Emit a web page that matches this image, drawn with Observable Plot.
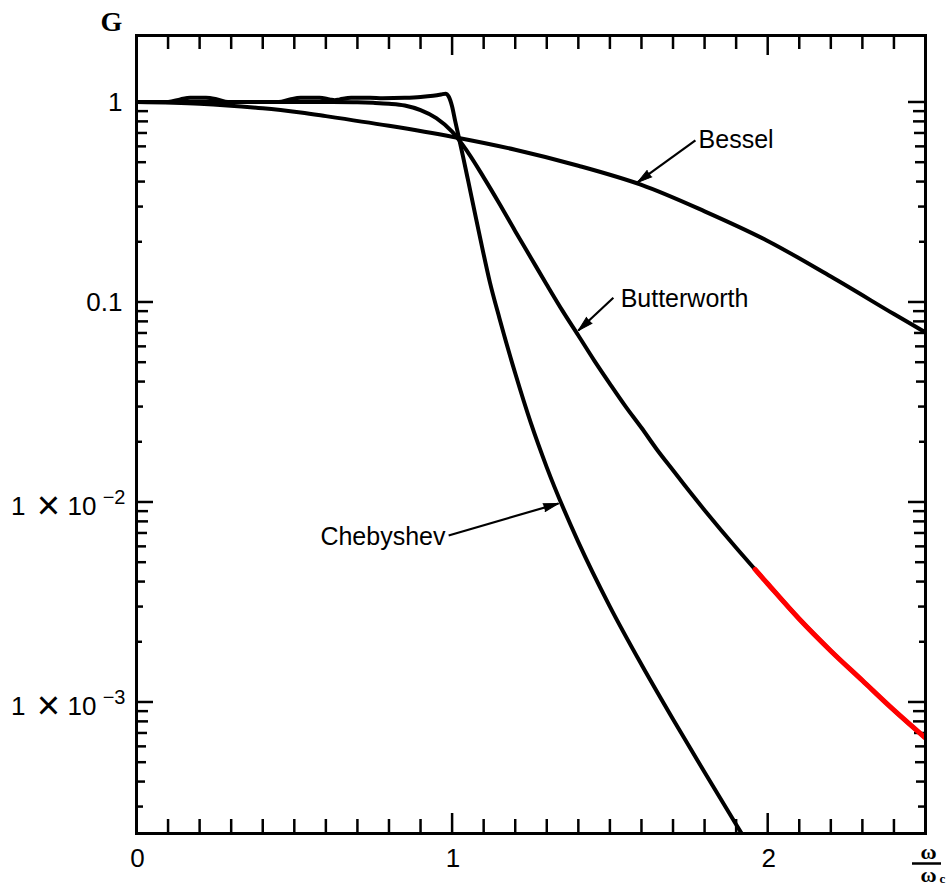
<!DOCTYPE html>
<html>
<head>
<meta charset="utf-8">
<script src="https://cdn.jsdelivr.net/npm/d3@7"></script>
<script src="https://cdn.jsdelivr.net/npm/@observablehq/plot@0.6"></script>
<style>
  body { margin: 0; background: #fff; }
  #chart svg { display: block; }
</style>
</head>
<body>
<div id="chart"></div>
<script>
// ---- Data (x = ω/ωc, G = gain) ----
const besselX = [0, 0.2, 0.4, 0.52, 0.6, 0.8, 1.0, 1.2, 1.4, 1.6, 1.8, 2.0, 2.2, 2.4, 2.5];
const besselG = [1.0, 0.98, 0.93, 0.886, 0.85, 0.76, 0.67, 0.577, 0.48, 0.385, 0.284, 0.202, 0.134, 0.087, 0.0704];

const butterX = [0, 0.3, 0.5, 0.6, 0.7, 0.75, 0.8, 0.85, 0.9, 0.95, 1.0, 1.05, 1.1, 1.15, 1.2, 1.25, 1.3, 1.35, 1.4, 1.45, 1.5, 1.55, 1.6, 1.65, 1.7, 1.75, 1.8, 1.9, 1.96, 2.0, 2.1, 2.2, 2.3, 2.4, 2.5];
const butterG = [1.0, 1.0, 1.0, 0.999, 0.996, 0.99, 0.98, 0.96, 0.91, 0.83, 0.71, 0.56, 0.42, 0.31, 0.226, 0.166, 0.122, 0.0903, 0.068, 0.0511, 0.039, 0.030, 0.0235, 0.0182, 0.0144, 0.0114, 0.0091, 0.0059, 0.0046, 0.0039, 0.0026, 0.0018, 0.00128, 0.00091, 0.00066];

const chebyX = [0, 0.1, 0.139, 0.17, 0.22, 0.256, 0.29, 0.35, 0.45, 0.486, 0.52, 0.58, 0.612, 0.628, 0.644, 0.68, 0.74, 0.78, 0.85, 0.9, 0.94, 0.965, 0.979, 0.99, 1.0, 1.01, 1.02, 1.035, 1.05, 1.068, 1.09, 1.12, 1.15, 1.2, 1.25, 1.3, 1.4, 1.5, 1.6, 1.7, 1.8, 1.9, 2.0];
const chebyG = [1.0, 1.0, 1.03, 1.05, 1.05, 1.03, 1.0, 1.0, 1.0, 1.03, 1.05, 1.05, 1.03, 1.02, 1.03, 1.05, 1.05, 1.045, 1.05, 1.06, 1.075, 1.09, 1.10, 1.06, 0.95, 0.80, 0.68, 0.53, 0.41, 0.30, 0.205, 0.125, 0.083, 0.044, 0.0247, 0.0149, 0.0063, 0.003, 0.00154, 0.00082, 0.000445, 0.000244, 0.000135];

const redStartX = 1.96;   // start of the red-highlighted part of the Butterworth curve

// Curve labels and the arrows pointing at the curves (data units)
const labelNames  = ["Bessel", "Butterworth", "Chebyshev"];
const labelX      = [1.781, 1.534, 0.979];
const labelG      = [0.642, 0.104, 0.00668];
const labelAnchor = ["start", "start", "end"];
const arrowFromX  = [1.771, 1.511, 0.989];
const arrowFromG  = [0.642, 0.105, 0.0068];
const arrowToX    = [1.587, 1.400, 1.337];
const arrowToG    = [0.396, 0.072, 0.00983];

// Tick labels
const xTickValues = [0, 1, 2];
const xTickLabels = ["0", "1", "2"];
const yTickValues = [1, 0.1, 0.01, 0.001];
const yTickLabels = ["1", "0.1", "1 × 10−2", "1 × 10−3"];
const yAxisTitle  = "G";
const xAxisTitle  = ["ω", "ω", "c"];   // ω / ω_c

// ---- Layout ----
const W = 947, H = 885;
const mL = 136, mR = 22, mT = 35, mB = 52;
const plotW = W - mL - mR, plotH = H - mT - mB;
const xDomain = [0, 2.5];
const yDomain = [2.2e-4, 2.15];
const sans = "'Liberation Sans', Arial, Helvetica, sans-serif";
const serif = "'Liberation Serif', 'Times New Roman', serif";

// same geometry as the Plot scales, used only to orient the arrowheads
const px = d3.scaleLinear(xDomain, [mL, W - mR]);
const py = d3.scaleLog(yDomain, [H - mB, mT]);

const rows = (xs, gs) => xs.map((x, i) => ({x, g: gs[i]}));
const bessel = rows(besselX, besselG);
const butter = rows(butterX, butterG);
const cheby = rows(chebyX, chebyG);
const red = butter.filter(d => d.x >= redStartX);

const labels = labelNames.map((t, i) => ({t, x: labelX[i], g: labelG[i], a: labelAnchor[i]}));
const arrows = labelNames.map((t, i) => {
  const a = {x1: arrowFromX[i], y1: arrowFromG[i], x2: arrowToX[i], y2: arrowToG[i]};
  const dxp = px(a.x2) - px(a.x1), dyp = py(a.y2) - py(a.y1);
  a.rot = Math.atan2(dxp, -dyp) * 180 / Math.PI;
  return a;
});
const xLabelRows = xTickValues.map((v, i) => ({v, t: xTickLabels[i]}));
const yLabelRows = yTickValues.map((v, i) => {
  const t = yTickLabels[i];
  const m = t.match(/^(\S+) × 10(.*)$/);
  return m ? {v, sci: true, mant: m[1], times: "×", base: "10", exp: m[2]} : {v, sci: false, t};
});
const yPlain = yLabelRows.filter(d => !d.sci);
const ySci = yLabelRows.filter(d => d.sci);

// ---- Tick positions ----
const xMinor = d3.range(1, 25).filter(i => i % 10 !== 0).map(i => i / 10);
const xMajor = [1, 2];
const minorLen = {2: 6, 3: 7, 4: 9, 5: 10, 6: 10, 7: 11, 8: 12, 9: 12};
const yMinor = [];
for (const dec of [1e-4, 1e-3, 1e-2, 1e-1]) {
  for (let m = 2; m <= 9; m++) {
    const v = m * dec;
    if (v >= yDomain[0] && v < 1) yMinor.push({v, len: minorLen[m]});
  }
}
const yMajor = [1, 0.1, 0.01, 0.001];
const tickSW = 2.5;

const yTickMarks = [];
for (const len of [...new Set(yMinor.map(d => d.len))]) {
  const vals = yMinor.filter(d => d.len === len).map(d => d.v);
  yTickMarks.push(Plot.tickY(vals, {y: d => d, insetRight: plotW - len, strokeWidth: tickSW}));
  yTickMarks.push(Plot.tickY(vals, {y: d => d, insetLeft: plotW - len, strokeWidth: tickSW}));
}
yTickMarks.push(Plot.tickY(yMajor, {y: d => d, insetRight: plotW - 17, strokeWidth: tickSW}));
yTickMarks.push(Plot.tickY(yMajor, {y: d => d, insetLeft: plotW - 17, strokeWidth: tickSW}));

const smooth = {x: "x", y: "g", stroke: "black", strokeWidth: 4, curve: "catmull-rom", clip: true, strokeLinejoin: "round"};
const txt = {fill: "black", fontFamily: sans, lineAnchor: "middle"};
const serifTxt = {fill: "black", fontFamily: serif, fontWeight: "bold", lineAnchor: "middle", textAnchor: "middle"};

const chart = Plot.plot({
  width: W, height: H,
  marginLeft: mL, marginRight: mR, marginTop: mT, marginBottom: mB,
  style: {background: "white", color: "black", overflow: "visible"},
  x: {domain: xDomain, axis: null},
  y: {type: "log", domain: yDomain, axis: null},
  marks: [
    // tick marks (inward)
    Plot.tickX(xMinor, {x: d => d, insetTop: plotH - 14, strokeWidth: tickSW}),
    Plot.tickX(xMinor, {x: d => d, insetBottom: plotH - 14, strokeWidth: tickSW}),
    Plot.tickX(xMajor, {x: d => d, insetTop: plotH - 20, strokeWidth: tickSW}),
    Plot.tickX(xMajor, {x: d => d, insetBottom: plotH - 20, strokeWidth: tickSW}),
    ...yTickMarks,
    // curves
    Plot.line(bessel, smooth),
    Plot.line(butter, smooth),
    Plot.line(cheby, {...smooth, curve: "monotone-x"}),
    Plot.line(red, {...smooth, stroke: "#ff0000", strokeWidth: 5}),
    // frame
    Plot.frame({stroke: "black", strokeWidth: 3}),
    // curve labels + arrows
    Plot.link(arrows, {x1: "x1", y1: "y1", x2: "x2", y2: "y2", stroke: "black", strokeWidth: 2.2}),
    Plot.vector(arrows, {x: "x2", y: "y2", rotate: "rot", length: 15, r: 4, shape: "spike", anchor: "end", fill: "black", stroke: "black", strokeWidth: 1}),
    Plot.text(labels.filter(d => d.a === "start"), {x: "x", y: "g", text: "t", textAnchor: "start", fontSize: 25, ...txt}),
    Plot.text(labels.filter(d => d.a === "end"), {x: "x", y: "g", text: "t", textAnchor: "end", fontSize: 25, ...txt}),
    // x tick labels
    Plot.text(xLabelRows, {x: "v", text: "t", frameAnchor: "bottom", textAnchor: "middle", dy: 25, dx: 1, fontSize: 26, ...txt}),
    // y tick labels
    Plot.text(yPlain, {y: "v", text: "t", frameAnchor: "left", textAnchor: "end", dx: -14, dy: 1, fontSize: 26, ...txt}),
    Plot.text(ySci, {y: "v", text: "mant", frameAnchor: "left", textAnchor: "end", dx: -111, dy: 5, fontSize: 26, ...txt}),
    Plot.text(ySci, {y: "v", text: "times", frameAnchor: "left", textAnchor: "middle", dx: -88, dy: 4, fontSize: 40, ...txt, fontWeight: 300}),
    Plot.text(ySci, {y: "v", text: "base", frameAnchor: "left", textAnchor: "end", dx: -40, dy: 5, fontSize: 26, ...txt}),
    Plot.text(ySci, {y: "v", text: "exp", frameAnchor: "left", textAnchor: "end", dx: -11, dy: -4, fontSize: 20, ...txt}),
    // axis titles
    Plot.text([yAxisTitle], {text: d => d, frameAnchor: "top-left", dx: -25, dy: -13, fontSize: 28, ...serifTxt}),
    Plot.text([xAxisTitle[0]], {text: d => d, frameAnchor: "bottom-right", dx: 3, dy: 18, fontSize: 22, ...serifTxt}),
    Plot.ruleY([yDomain[0]], {x1: 2.5 - 13 / 315.6, x2: 2.5 + 16 / 315.6, dy: 30, stroke: "black", strokeWidth: 2.5, clip: false}),
    Plot.text([xAxisTitle[1]], {text: d => d, frameAnchor: "bottom-right", dx: 3, dy: 41, fontSize: 22, ...serifTxt}),
    Plot.text([xAxisTitle[2]], {text: d => d, frameAnchor: "bottom-right", dx: 17, dy: 45, fontSize: 13, ...serifTxt})
  ]
});
document.getElementById("chart").append(chart);
</script>
</body>
</html>
